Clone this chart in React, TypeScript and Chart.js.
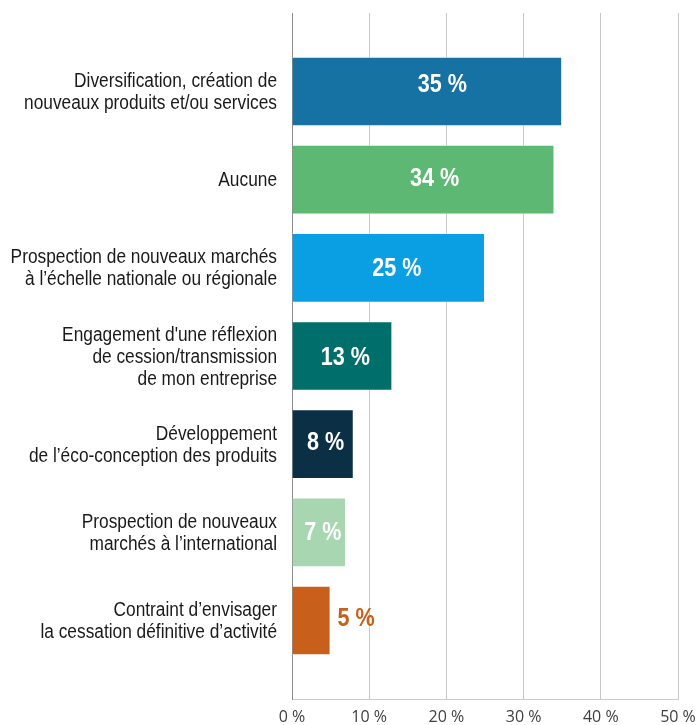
import React, { useEffect, useRef } from "react";
import { Chart, registerables } from "chart.js";

Chart.register(...registerables);

const categories: string[][] = [
  ["Diversification, création de", "nouveaux produits et/ou services"],
  ["Aucune"],
  ["Prospection de nouveaux marchés", "à l’échelle nationale ou régionale"],
  ["Engagement d'une réflexion", "de cession/transmission", "de mon entreprise"],
  ["Développement", "de l’éco-conception des produits"],
  ["Prospection de nouveaux", "marchés à l’international"],
  ["Contraint d’envisager", "la cessation définitive d’activité"],
];
const values: number[] = [35, 34, 25, 13, 8, 7, 5];
const barColors: string[] = ["#1572a3", "#5cb872", "#0a9fe2", "#006e6b", "#0b2f44", "#a8d6b1", "#c85f1a"];
const labelColors: string[] = ["#ffffff", "#ffffff", "#ffffff", "#ffffff", "#ffffff", "#ffffff", "#c85f1a"];
const insideLabel: boolean[] = [true, true, true, true, true, true, false];
const xTicks: number[] = [0, 10, 20, 30, 40, 50];

// small style nudges of the value labels (pixels), as placed in the original
const labelNudgeX: number[] = [14, 10, 7, 2, 1.5, 2.5, 0];
const labelNudgeY: number[] = [-8, -2, 0, 1, -2, -1, -3];

const Y_MIN = -0.89;
const Y_MAX = 6.89;
const SANS = "'Liberation Sans', Arial, sans-serif";

function drawNarrow(ctx: CanvasRenderingContext2D, text: string, x: number, y: number, align: CanvasTextAlign, sx: number) {
  ctx.save();
  ctx.translate(x, y);
  ctx.scale(sx, 1);
  ctx.textAlign = align;
  ctx.fillText(text, 0, 0);
  ctx.restore();
}

const narrowLabels = {
  id: "narrowLabels",
  afterDatasetsDraw(chart: any) {
    const ctx: CanvasRenderingContext2D = chart.ctx;
    const yScale = chart.scales.y;
    const xScale = chart.scales.x;
    ctx.save();
    ctx.textBaseline = "middle";
    // category labels
    ctx.font = `20px ${SANS}`;
    ctx.fillStyle = "#1a1a1a";
    const lineH = 22;
    categories.forEach((lines, i) => {
      const cy = yScale.getPixelForValue(i);
      const startY = cy - ((lines.length - 1) * lineH) / 2;
      lines.forEach((line, j) => {
        drawNarrow(ctx, line, xScale.left - 15, startY + j * lineH + 1, "right", 0.865);
      });
    });
    // value labels
    ctx.font = `bold 26px ${SANS}`;
    const meta = chart.getDatasetMeta(0);
    meta.data.forEach((bar: any, i: number) => {
      const text = `${values[i]} %`;
      ctx.fillStyle = labelColors[i];
      const y = bar.y + 1 + labelNudgeY[i];
      if (insideLabel[i]) {
        drawNarrow(ctx, text, (bar.base + bar.x) / 2 + 1 + labelNudgeX[i], y, "center", 0.83);
      } else {
        drawNarrow(ctx, text, bar.x + 7 + labelNudgeX[i], y, "left", 0.83);
      }
    });
    ctx.restore();
  },
};

export default function App() {
  const ref = useRef<HTMLCanvasElement | null>(null);
  useEffect(() => {
    if (!ref.current) return;
    const chart = new Chart(ref.current, {
      type: "bar",
      data: {
        datasets: [
          {
            data: values.map((v, i) => ({ x: v, y: i })),
            backgroundColor: barColors,
            borderColor: "rgba(255,255,255,0.6)",
            borderWidth: 1,
            categoryPercentage: 1,
            barPercentage: 0.79,
          } as any,
        ],
      },
      options: {
        indexAxis: "y",
        animation: false,
        responsive: false,
        maintainAspectRatio: false,
        layout: { padding: { top: 13, right: 20, left: 0, bottom: 0 } },
        plugins: { legend: { display: false }, tooltip: { enabled: false } },
        scales: {
          x: {
            type: "linear",
            min: 0,
            max: 50,
            afterBuildTicks: (scale: any) => {
              scale.ticks = xTicks.map((v) => ({ value: v }));
            },
            afterFit: (scale: any) => {
              scale.height = 26;
              scale.paddingLeft = 0;
              scale.paddingRight = 0;
            },
            ticks: {
              padding: 9,
              color: "#404040",
              font: { family: "'Open Sans', 'Noto Sans', sans-serif", size: 16 },
              callback: (v: any) => `${v} %`,
            },
            grid: {
              drawTicks: false,
              color: (c: any) => (c.tick && c.tick.value === 0 ? "#8c8c8c" : "#c8c8c8"),
              lineWidth: 1,
            },
            border: { display: true, color: "#cccccc", width: 1 },
          },
          y: {
            type: "linear",
            reverse: true,
            offset: false,
            min: Y_MIN,
            max: Y_MAX,
            afterDataLimits: (scale: any) => {
              scale.min = Y_MIN;
              scale.max = Y_MAX;
            },
            afterBuildTicks: (scale: any) => {
              scale.ticks = categories.map((_, i) => ({ value: i }));
              scale.min = Y_MIN;
              scale.max = Y_MAX;
            },
            afterFit: (scale: any) => {
              scale.width = 292;
              scale.paddingTop = 0;
              scale.paddingBottom = 0;
            },
            ticks: { display: false },
            grid: { display: false, drawTicks: false },
            border: { display: true, color: "#8c8c8c", width: 1 },
          },
        },
      },
      plugins: [narrowLabels],
    } as any);
    return () => chart.destroy();
  }, []);
  return (
    <div style={{ position: "fixed", left: 0, top: 0, width: 698, height: 725, background: "#fff" }}>
      <canvas ref={ref} width={698} height={725} style={{ width: 698, height: 725, display: "block" }} />
    </div>
  );
}
